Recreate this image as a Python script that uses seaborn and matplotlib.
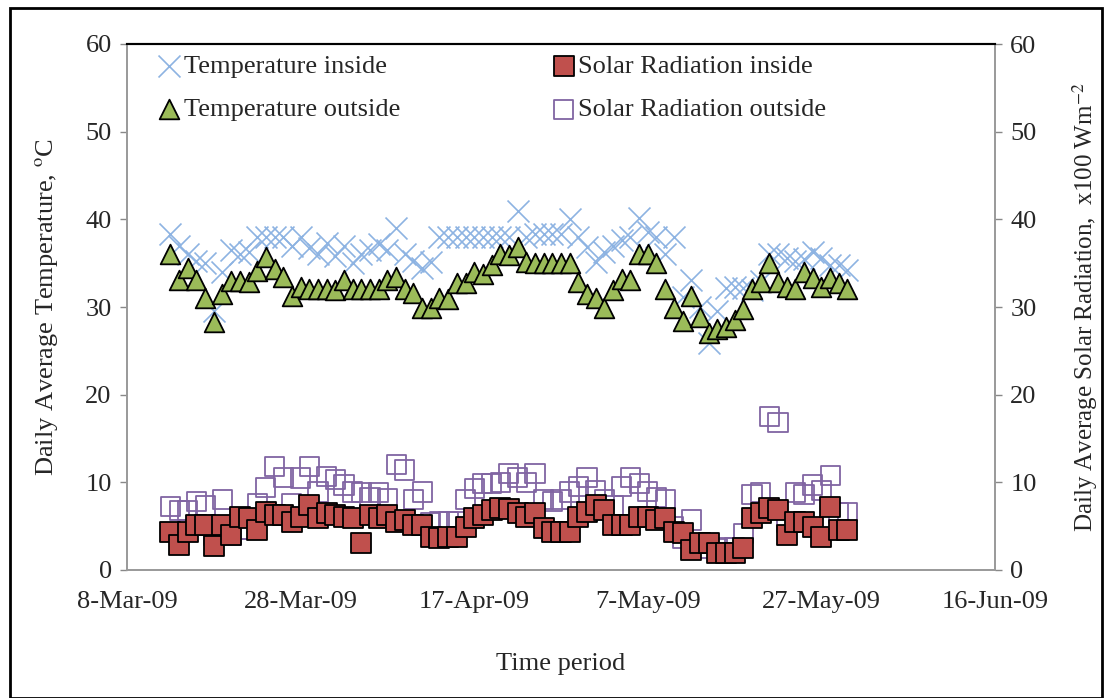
import numpy as np
import pandas as pd
import matplotlib
matplotlib.use("Agg")
import matplotlib.pyplot as plt
import matplotlib.dates as mdates
import seaborn as sns

start_date = "2009-03-13"
n_days = 79

temp_inside = [38.3, 37.0, 36.0, 35.3, 35.0, 29.5, 34.0, 36.5, 36.0, 36.3,
               38.0, 38.0, 38.0, 38.0, 37.0, 38.0, 36.7, 36.0, 37.3, 35.8,
               37.0, 35.0, 36.0, 36.5, 37.2, 36.5, 39.0, 36.1, 35.2, 34.4,
               35.1, 38.0, 38.0, 38.0, 38.0, 38.0, 38.0, 38.0, 38.0, 38.0,
               41.0, 38.0, 38.3, 38.3, 38.3, 38.3, 40.0, 38.0, 36.8, 35.1,
               36.3, 37.0, 37.6, 38.0, 40.2, 38.5, 38.0, 36.1, 38.0, 31.1,
               33.1, 30.0, 25.9, 29.6, 32.2, 32.3, 32.2, 31.9, 33.0, 36.1,
               36.0, 35.6, 35.3, 35.5, 36.3, 35.6, 34.8, 34.8, 34.2]
temp_outside = [36.1, 33.1, 34.4, 33.1, 31.0, 28.3, 31.5, 33.0, 33.0, 32.8,
                34.1, 35.7, 34.3, 33.4, 31.2, 32.3, 32.0, 32.0, 32.0, 31.9,
                33.1, 32.0, 32.0, 32.0, 32.0, 33.1, 33.4, 32.0, 31.6, 29.9,
                29.9, 31.0, 30.9, 32.7, 32.7, 34.0, 33.8, 34.8, 36.1, 35.9,
                36.8, 35.1, 35.0, 35.0, 35.0, 35.0, 35.0, 32.9, 31.5, 31.0,
                29.9, 31.9, 33.2, 33.1, 36.1, 36.1, 35.0, 32.0, 29.9, 28.4,
                31.2, 28.9, 27.0, 27.5, 27.7, 28.5, 29.8, 32.0, 32.8, 35.0,
                32.8, 32.3, 32.0, 34.0, 33.3, 32.3, 33.3, 32.7, 32.0]
solar_inside = [4.3, 2.9, 4.3, 5.1, 5.1, 2.7, 5.1, 4.0, 6.0, 5.9,
                4.6, 6.6, 6.3, 6.3, 5.5, 6.0, 7.4, 5.9, 6.5, 6.3,
                6.0, 5.9, 3.1, 6.3, 5.9, 6.3, 5.5, 5.7, 5.1, 5.1,
                3.8, 3.6, 3.8, 3.8, 4.9, 5.9, 6.3, 6.8, 7.1, 7.0,
                6.5, 6.0, 6.5, 4.8, 4.3, 4.3, 4.3, 6.0, 6.6, 7.4,
                6.8, 5.1, 5.1, 5.1, 6.0, 6.0, 5.7, 5.9, 4.3, 4.2,
                2.3, 3.1, 3.1, 1.9, 1.9, 1.9, 2.5, 5.9, 6.5, 7.1,
                6.8, 4.0, 5.5, 5.5, 4.9, 3.8, 7.2, 4.6, 4.6]
solar_outside = [7.2, 6.8, 6.8, 7.8, 7.4, 4.0, 8.0, 4.0, 4.6, 4.6,
                 7.6, 9.4, 11.8, 10.6, 7.6, 10.5, 11.8, 8.9, 10.7, 10.3,
                 9.7, 8.9, 8.8, 8.3, 8.8, 8.2, 12.0, 11.4, 8.0, 8.9,
                 5.4, 5.5, 5.5, 5.5, 8.0, 9.3, 9.9, 9.9, 10.0, 11.0,
                 10.6, 10.0, 11.0, 8.0, 7.8, 8.0, 8.9, 9.5, 10.6, 9.1,
                 8.0, 7.4, 9.5, 10.6, 9.9, 9.0, 8.3, 8.0, 4.9, 3.6,
                 5.7, 3.0, 2.5, 2.5, 2.6, 2.6, 4.2, 8.6, 8.8, 17.5,
                 16.8, 5.4, 8.8, 8.6, 9.7, 9.1, 10.8, 6.5, 6.6]

x_tick_labels = ["8-Mar-09", "28-Mar-09", "17-Apr-09", "7-May-09", "27-May-09", "16-Jun-09"]
y_ticks = [0, 10, 20, 30, 40, 50, 60]

dates = pd.date_range(start_date, periods=n_days, freq="D")
df = pd.DataFrame({"date": dates, "tin": temp_inside, "tout": temp_outside,
                   "sin": solar_inside, "sout": solar_outside})

sns.set_theme(style="white")
plt.rcParams["font.family"] = ["Liberation Serif", "DejaVu Serif"]
plt.rcParams["mathtext.fontset"] = "stix"

fig = plt.figure(figsize=(11.12, 6.98), dpi=100)
ax = fig.add_axes([127/1112, 1-570/698, (995-127)/1112, (570-44)/698])
ax2 = ax.twinx()

c_x = "#8db3e2"
c_tri = "#9bbb59"
c_red = "#c0504d"
c_pur = "#8064a2"

sns.scatterplot(data=df, x="date", y="tin", ax=ax, marker="x", s=250,
                color=c_x, linewidth=1.2, label="Temperature inside", zorder=3)
sns.scatterplot(data=df, x="date", y="tout", ax=ax, marker="^", s=200,
                color=c_tri, edgecolor="black", linewidth=1.3,
                label="Temperature outside", zorder=4)
sns.scatterplot(data=df, x="date", y="sin", ax=ax2, marker="s", s=190,
                color=c_red, edgecolor="black", linewidth=1.3,
                label="Solar Radiation inside", zorder=4)
sns.scatterplot(data=df, x="date", y="sout", ax=ax2, marker="s", s=190,
                facecolor="none", edgecolor=c_pur, linewidth=1.3,
                label="Solar Radiation outside", zorder=3)

tick_dates = pd.to_datetime(["2009-03-08", "2009-03-28", "2009-04-17",
                             "2009-05-07", "2009-05-27", "2009-06-16"])
ax.set_xlim(tick_dates[0], tick_dates[-1])
ax.set_xticks(tick_dates)
ax.set_xticklabels(x_tick_labels)
for a in (ax, ax2):
    a.set_ylim(0, 60)
    a.set_yticks(y_ticks)
    a.set_yticklabels([str(v) for v in y_ticks])

ax.set_xlabel("Time period", fontsize=19, labelpad=29)
ax.set_ylabel("Daily Average Temperature, $^{\\mathrm{o}}$C", fontsize=19, labelpad=18)
ax2.set_ylabel("Daily Average Solar Radiation,  x100 Wm$^{-2}$", fontsize=18, labelpad=24)

for a in (ax, ax2):
    a.tick_params(axis="both", labelsize=19, direction="out", length=5,
                  width=1, color="#888888", pad=6)
    for s in a.spines.values():
        s.set_color("#999999")
        s.set_linewidth(1.2)
    a.spines["top"].set_color("black")
    a.spines["top"].set_linewidth(1.5)
ax.tick_params(axis="x", pad=10)

h1, l1 = ax.get_legend_handles_labels()
h2, l2 = ax2.get_legend_handles_labels()
if ax.get_legend():
    ax.get_legend().remove()
if ax2.get_legend():
    ax2.get_legend().remove()
leg = ax2.legend(h1 + h2, l1 + l2, ncol=2, loc="upper left",
                 bbox_to_anchor=(0.012, 1.015), frameon=False, fontsize=19,
                 handletextpad=0.05, handlelength=1.0, labelspacing=0.75,
                 columnspacing=5.7, borderaxespad=0.3)

fig.patches.append(plt.Rectangle((0.009, 0.0), 0.982, 0.988, transform=fig.transFigure,
                                 fill=False, edgecolor="black", linewidth=2.0))

fig.savefig("out.png", dpi=100)
